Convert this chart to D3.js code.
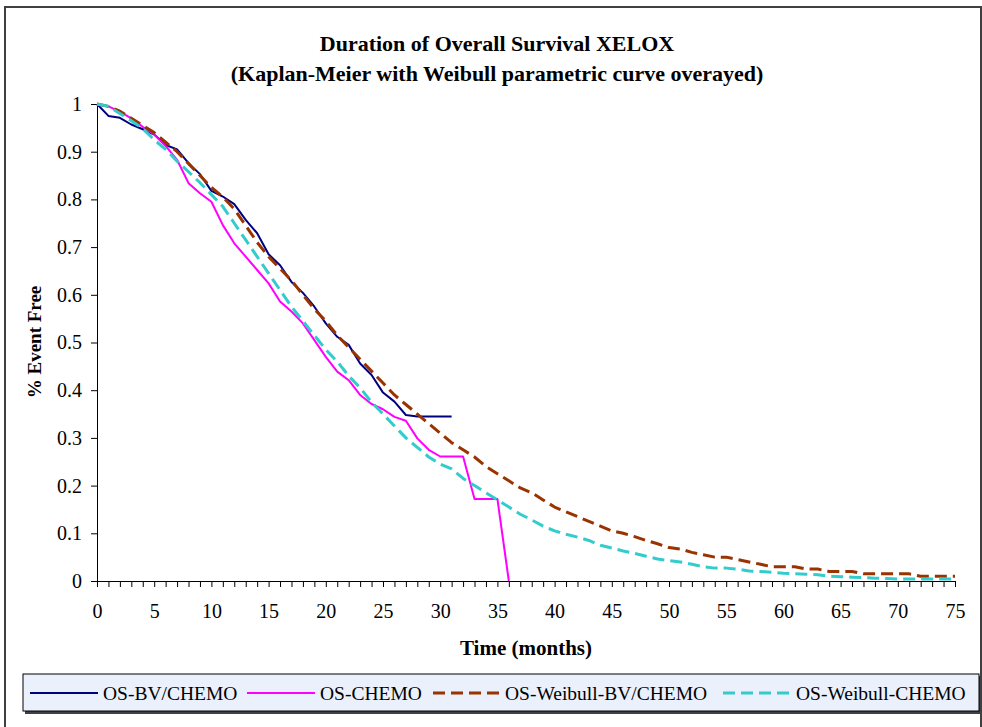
<!DOCTYPE html>
<html><head><meta charset="utf-8">
<script src="https://cdn.jsdelivr.net/npm/d3@7"></script>
<style>body{margin:0;background:#fff} text{font-family:"Liberation Serif","Times New Roman",serif;fill:#000}</style>
</head><body><svg id="c" width="982" height="727"></svg>
<script>
const titleLines = ["Duration of Overall Survival XELOX", "(Kaplan-Meier with Weibull parametric curve overayed)"];
const xTitle = "Time (months)";
const yTitle = "% Event Free";
const seriesNames = ["OS-BV/CHEMO", "OS-CHEMO", "OS-Weibull-BV/CHEMO", "OS-Weibull-CHEMO"];
const xTickLabels = [0,5,10,15,20,25,30,35,40,45,50,55,60,65,70,75];
const yTickLabels = [0,0.1,0.2,0.3,0.4,0.5,0.6,0.7,0.8,0.9,1];
// values per month, starting at month 0
const osBvChemo = [1.0,0.975,0.971,0.957,0.947,0.936,0.914,0.905,0.876,0.853,0.818,0.806,0.790,0.757,0.729,0.685,0.662,0.627,0.604,0.575,0.540,0.512,0.495,0.456,0.432,0.395,0.376,0.348,0.345,0.345,0.345,0.345];
const osChemo = [1.0,0.995,0.984,0.970,0.952,0.936,0.912,0.883,0.834,0.813,0.795,0.746,0.708,0.680,0.652,0.624,0.586,0.565,0.540,0.505,0.470,0.439,0.421,0.390,0.371,0.360,0.344,0.336,0.299,0.275,0.261,0.261,0.261,0.172,0.172,0.172,0];
const weibullBvChemo = [1.0,0.995,0.985,0.97,0.955,0.94,0.92,0.90,0.875,0.85,0.825,0.805,0.78,0.745,0.71,0.68,0.655,0.63,0.60,0.57,0.545,0.515,0.49,0.465,0.44,0.415,0.39,0.37,0.35,0.33,0.31,0.29,0.275,0.26,0.24,0.225,0.21,0.195,0.185,0.17,0.155,0.145,0.135,0.125,0.115,0.105,0.10,0.093,0.085,0.078,0.07,0.067,0.06,0.055,0.05,0.05,0.045,0.04,0.035,0.03,0.03,0.03,0.025,0.025,0.02,0.02,0.02,0.015,0.015,0.015,0.015,0.015,0.01,0.01,0.01,0.01];
const weibullChemo = [1.0,0.995,0.98,0.965,0.948,0.925,0.905,0.88,0.858,0.835,0.81,0.785,0.75,0.715,0.68,0.645,0.61,0.575,0.545,0.515,0.485,0.46,0.43,0.405,0.375,0.35,0.325,0.30,0.28,0.26,0.245,0.235,0.215,0.20,0.185,0.17,0.155,0.14,0.128,0.115,0.105,0.098,0.092,0.085,0.075,0.069,0.063,0.058,0.052,0.046,0.043,0.04,0.035,0.03,0.027,0.027,0.025,0.021,0.02,0.018,0.016,0.015,0.014,0.013,0.01,0.009,0.008,0.007,0.006,0.005,0.004,0.004,0.004,0.004,0.004,0.004];
const seriesValues = [osBvChemo, osChemo, weibullBvChemo, weibullChemo];
const seriesColors = ["#000080", "#FF00FF", "#993300", "#33CCCC"];
const seriesWidths = [2, 2, 3, 3];
const seriesDash = [null, null, "12,6", "12,6"];

const svg = d3.select("#c");
// outer frame
svg.append("rect").attr("x",5).attr("y",7).attr("width",976).attr("height",760)
  .attr("fill","#fff").attr("stroke","#404040").attr("stroke-width",2);

const x = d3.scaleLinear().domain([0,75]).range([97,955]);
const y = d3.scaleLinear().domain([0,1]).range([581,104]);

// titles
svg.selectAll("text.title").data(titleLines).join("text").attr("class","title")
  .attr("x",497).attr("y",(d,i)=>51+i*30).attr("text-anchor","middle")
  .attr("font-size",22).attr("font-weight","bold").text(d=>d);

// axes
const allMonths = d3.range(0,76);
const xAxis = d3.axisBottom(x).tickValues(allMonths).tickSize(6).tickSizeOuter(0).tickPadding(17)
  .tickFormat(d => xTickLabels.includes(d) ? String(d) : "");
const gx = svg.append("g").attr("transform","translate(0,581)").call(xAxis);
gx.selectAll("text").attr("font-size",20).attr("font-family","Liberation Serif");
gx.selectAll("line,path").attr("stroke","#000");

const yAxis = d3.axisLeft(y).tickValues(yTickLabels).tickSize(6).tickSizeOuter(0).tickPadding(9)
  .tickFormat(d => String(+d.toFixed(1)));
const gy = svg.append("g").attr("transform","translate(97,0)").call(yAxis);
gy.selectAll("text").attr("font-size",20).attr("font-family","Liberation Serif");
gy.selectAll("line,path").attr("stroke","#000");

svg.append("text").attr("x",526).attr("y",655).attr("text-anchor","middle")
  .attr("font-size",21).attr("font-weight","bold").text(xTitle);
svg.append("text").attr("transform","translate(41,342) rotate(-90)").attr("text-anchor","middle")
  .attr("font-size",19).attr("font-weight","bold").text(yTitle);

// series
const line = d3.line().x((d,i)=>x(i)).y(d=>y(d));
seriesValues.forEach((vals,k)=>{
  svg.append("path").datum(vals).attr("d",line).attr("fill","none")
    .attr("stroke",seriesColors[k]).attr("stroke-width",seriesWidths[k])
    .attr("stroke-dasharray",seriesDash[k]).attr("stroke-linejoin","round");
});

// legend
svg.append("rect").attr("x",25).attr("y",676).attr("width",957).attr("height",38).attr("fill","#404040");
svg.append("rect").attr("x",23).attr("y",674).attr("width",956).attr("height",37)
  .attr("fill","#EAF0FC").attr("stroke","#000").attr("stroke-width",1);
const legendSampleX = [30, 247, 433, 723];
const legendTextX = [103, 320, 505, 796];
seriesNames.forEach((n,k)=>{
  svg.append("line").attr("x1",legendSampleX[k]).attr("x2",legendSampleX[k]+68)
    .attr("y1",693).attr("y2",693).attr("stroke",seriesColors[k])
    .attr("stroke-width",seriesWidths[k]).attr("stroke-dasharray",seriesDash[k]);
  svg.append("text").attr("x",legendTextX[k]).attr("y",700).attr("font-size",19.5).text(n);
});
</script></body></html>
